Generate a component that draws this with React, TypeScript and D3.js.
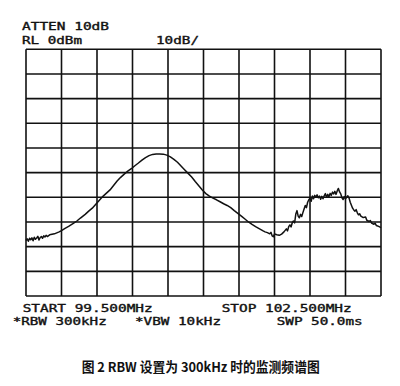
import React from "react";
import * as d3 from "d3";

const freqs = [
  99.5, 99.51, 99.52, 99.53, 99.54, 99.55, 99.56, 99.57, 99.58, 99.59, 99.6, 99.61, 99.62, 99.63, 99.64, 99.65, 99.66, 99.67, 99.68,
  99.7, 99.72, 99.74, 99.76, 99.78, 99.8, 99.83, 99.86, 99.9, 99.93, 99.96, 100.0, 100.03, 100.06, 100.09, 100.12, 100.15, 100.18,
  100.21, 100.24, 100.27, 100.3, 100.33, 100.36, 100.39, 100.42, 100.45, 100.48, 100.51, 100.54, 100.57, 100.6, 100.63, 100.66,
  100.69, 100.72, 100.75, 100.78, 100.81, 100.84, 100.87, 100.9, 100.93, 100.96, 100.99, 101.02, 101.05, 101.08, 101.11, 101.14,
  101.17, 101.2, 101.23, 101.26, 101.29, 101.32, 101.35, 101.38, 101.41, 101.44, 101.47, 101.5, 101.52, 101.54, 101.56, 101.57,
  101.58, 101.59, 101.6, 101.62, 101.64, 101.66, 101.68, 101.7, 101.71, 101.72, 101.73, 101.74, 101.75, 101.76, 101.77, 101.78,
  101.79, 101.8, 101.81, 101.82, 101.83, 101.84, 101.85, 101.86, 101.87, 101.88, 101.89, 101.9, 101.91, 101.92, 101.93, 101.94,
  101.95, 101.96, 101.97, 101.98, 101.99, 102.0, 102.01, 102.02, 102.03, 102.04, 102.05, 102.06, 102.07, 102.08, 102.09, 102.1,
  102.11, 102.12, 102.13, 102.14, 102.15, 102.16, 102.17, 102.18, 102.19, 102.2, 102.21, 102.22, 102.23, 102.24, 102.25, 102.26,
  102.27, 102.28, 102.29, 102.3, 102.31, 102.32, 102.33, 102.35, 102.37, 102.38, 102.4, 102.41, 102.42, 102.44, 102.45, 102.46,
  102.48, 102.5,
];

const levels = [
  -77.5, -76.8, -77.8, -76.6, -77.2, -76.4, -77.6, -76.2, -77.0, -76.5, -75.8, -77.3, -76.3, -75.9, -76.6, -75.6, -76.1, -75.4, -75.9,
  -75.2, -75.0, -74.8, -74.4, -74.0, -73.5, -72.6, -71.8, -70.6, -69.6, -68.4, -66.9, -65.6, -64.4, -62.8, -61.2, -59.6, -58.3,
  -57.0, -55.2, -53.4, -51.9, -50.6, -49.4, -48.4, -47.2, -46.1, -44.9, -43.9, -43.1, -42.6, -42.4, -42.4, -42.5,
  -42.9, -43.6, -44.6, -45.8, -47.3, -48.8, -50.3, -51.8, -53.6, -55.3, -57.0, -58.5, -59.5, -60.3, -61.0, -61.8,
  -62.6, -63.3, -64.2, -65.4, -66.5, -67.6, -68.8, -70.0, -71.0, -71.9, -72.7, -73.5, -74.0, -74.3, -74.8, -74.2,
  -75.6, -76.0, -74.9, -75.2, -75.4, -74.9, -74.0, -72.8, -73.6, -71.9, -71.2, -72.0, -70.3, -69.6, -70.4, -66.8,
  -65.4, -67.6, -68.3, -66.9, -67.8, -66.2, -64.7, -63.3, -64.2, -62.0, -61.0, -60.4, -61.6, -59.5, -60.6, -59.2,
  -60.0, -59.0, -60.2, -59.5, -60.8, -59.6, -60.6, -59.4, -58.5, -60.0, -58.8, -59.8, -58.4, -59.2, -57.9, -58.6,
  -57.6, -58.8, -57.4, -56.4, -57.8, -58.6, -60.2, -60.9, -59.7, -60.6, -60.0, -59.4, -60.3, -62.0, -63.2, -64.4,
  -65.1, -65.6, -65.0, -66.3, -67.1, -66.7, -67.6, -68.2, -68.0, -69.3, -69.8, -69.4, -70.4, -70.9, -70.5, -71.4,
  -71.8, -72.3,
];

const startFreq = 99.5;
const stopFreq = 102.5;
const refLevel = 0;
const dbPerDiv = 10;
const divisions = 10;

const headerLines = ["ATTEN 10dB", "RL 0dBm"];
const scaleLabel = "10dB/";
const footerLine1 = ["START 99.500MHz", "STOP 102.500MHz"];
const footerLine2 = ["*RBW 300kHz", "*VBW 10kHz", "SWP 50.0ms"];
const caption = "图 2 RBW 设置为 300kHz 时的监测频谱图";

export default function App() {
  const x = d3.scaleLinear().domain([startFreq, stopFreq]).range([26, 381]);
  const y = d3
    .scaleLinear()
    .domain([refLevel - dbPerDiv * divisions, refLevel])
    .range([296, 49.3]);
  const xTicks = d3.range(divisions + 1).map((i) => startFreq + ((stopFreq - startFreq) * i) / divisions);
  const yTicks = d3.range(divisions + 1).map((i) => refLevel - dbPerDiv * i);
  const data = freqs.map((f, i) => [f, levels[i]] as [number, number]);
  const line = d3
    .line<[number, number]>()
    .x((d) => x(d[0]))
    .y((d) => y(d[1]));

  const mono = "'DejaVu Sans Mono', 'Liberation Mono', monospace";
  const txt = (s: string, px: number, py: number, len: number) => (
    <text
      x={px}
      y={py}
      fontFamily={mono}
      fontSize={10}
      textLength={len}
      lengthAdjust="spacingAndGlyphs"
      fill="#111"
      stroke="#111"
      strokeWidth={0.35}
    >
      {s}
    </text>
  );

  return (
    <svg
      width={400}
      height={386}
      style={{ position: "absolute", left: 0, top: 0, background: "#fff" }}
    >
      <rect x={0} y={0} width={400} height={386} fill="#fff" />
      {xTicks.map((t, i) => (
        <line key={"v" + i} x1={x(t)} x2={x(t)} y1={y(-100)} y2={y(0)} stroke="#111" strokeWidth={1.6} />
      ))}
      {yTicks.map((t, i) => (
        <line key={"h" + i} x1={x(startFreq)} x2={x(stopFreq)} y1={y(t)} y2={y(t)} stroke="#111" strokeWidth={1.6} />
      ))}
      <path d={line(data) || ""} fill="none" stroke="#111" strokeWidth={1.5} strokeLinejoin="round" />
      {txt(headerLines[0], 22, 30, 87)}
      {txt(headerLines[1], 22, 44.3, 60)}
      {txt(scaleLabel, 156, 44.3, 43)}
      {txt(footerLine1[0], 22.7, 311.7, 130)}
      {txt(footerLine1[1], 221.7, 311.7, 130)}
      {txt(footerLine2[0], 12.7, 325, 94)}
      {txt(footerLine2[1], 135, 325, 86)}
      {txt(footerLine2[2], 276.7, 325, 86)}
      <text
        x={81.7}
        y={372}
        fontFamily="'Noto Sans CJK SC', sans-serif"
        fontWeight="bold"
        fontSize={13.5}
        textLength={238}
        lengthAdjust="spacingAndGlyphs"
        fill="#111"
      >
        {caption}
      </text>
    </svg>
  );
}
